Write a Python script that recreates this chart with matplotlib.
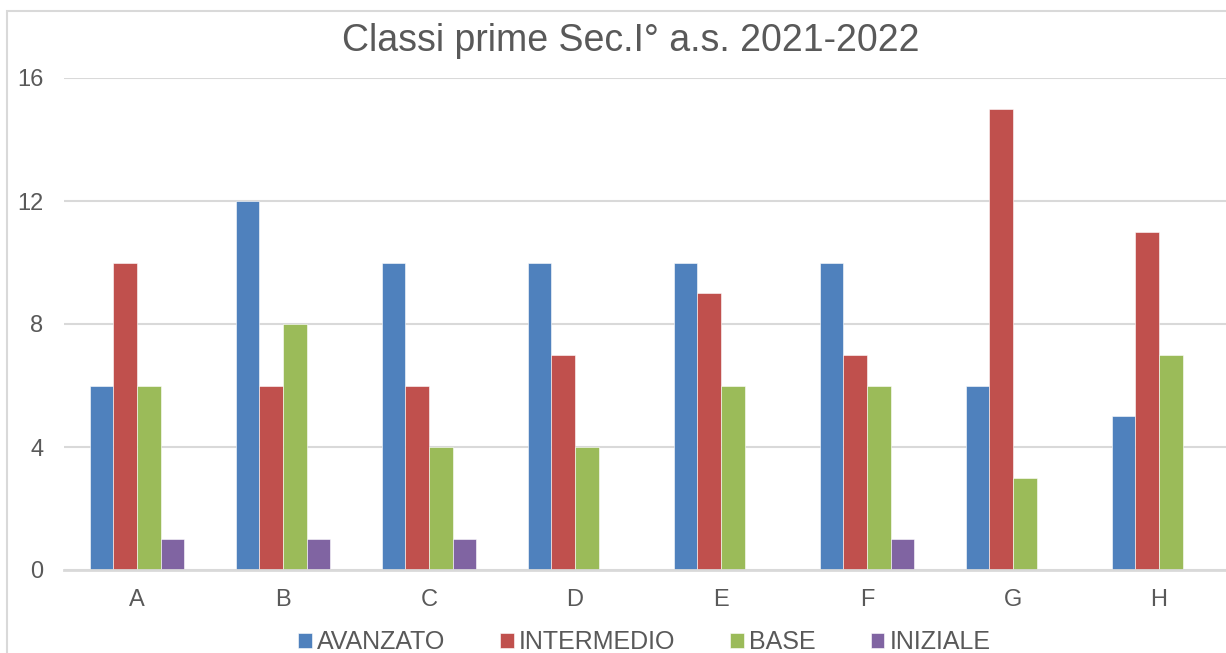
import numpy as np
import matplotlib.pyplot as plt
from matplotlib.patches import Rectangle

plt.rcParams['font.family'] = ['Liberation Sans', 'DejaVu Sans']

CLASSES = ['A', 'B', 'C', 'D', 'E', 'F', 'G', 'H']
AVANZATO = [6, 12, 10, 10, 10, 10, 6, 5]
INTERMEDIO = [10, 6, 6, 7, 9, 7, 15, 11]
BASE = [6, 8, 4, 4, 6, 6, 3, 7]
INIZIALE = [1, 1, 1, 0, 0, 1, 0, 0]
Y_TICKS = [0, 4, 8, 12, 16]
TITLE = "Classi prime Sec.I° a.s. 2021-2022"

SERIES = [
    ('AVANZATO', AVANZATO, '#4f81bd'),
    ('INTERMEDIO', INTERMEDIO, '#c0504d'),
    ('BASE', BASE, '#9bbb59'),
    ('INIZIALE', INIZIALE, '#8064a2'),
]
TEXT_COLOR = '#595959'
GRID_COLOR = '#d9d9d9'

fig = plt.figure(figsize=(12.26, 6.53), dpi=100)
fig.patches.append(Rectangle((7 / 1226, -0.1), 1.2, (653 - 11) / 653 + 0.1,
                             transform=fig.transFigure, fill=False,
                             edgecolor=GRID_COLOR, linewidth=1.5))

ax = fig.add_axes([64 / 1226, 83 / 653, 1168 / 1226, 492 / 653])
x = np.arange(len(CLASSES))
width = 0.161
for i, (name, values, color) in enumerate(SERIES):
    ax.bar(x + (i - 1.5) * width, values, width, color=color, label=name,
           edgecolor='white', linewidth=0.4, zorder=3)

ax.set_xlim(-0.5, len(CLASSES) - 0.5)
ax.set_ylim(0, 16)
ax.set_xticks(x, CLASSES)
ax.set_yticks(Y_TICKS)
ax.tick_params(axis='both', length=0, labelsize=17, labelcolor=TEXT_COLOR)
ax.tick_params(axis='y', pad=15)
ax.tick_params(axis='x', pad=14)
ax.grid(axis='y', color=GRID_COLOR, linewidth=1.5, zorder=0)
for side in ['left', 'right', 'top']:
    ax.spines[side].set_visible(False)
ax.spines['bottom'].set_color(GRID_COLOR)
ax.spines['bottom'].set_linewidth(2)
ax.spines['bottom'].set_zorder(4)

fig.text(631 / 1226, (653 - 51) / 653, TITLE, ha='center', va='baseline',
         fontsize=27, color=TEXT_COLOR)

fig.legend(loc='center', bbox_to_anchor=(644 / 1226, 11 / 653), ncol=4,
           frameon=False, fontsize=18, labelcolor=TEXT_COLOR,
           handlelength=0.55, handleheight=0.55, handletextpad=0.2,
           columnspacing=2.2)

fig.savefig('out.png', dpi=100)
